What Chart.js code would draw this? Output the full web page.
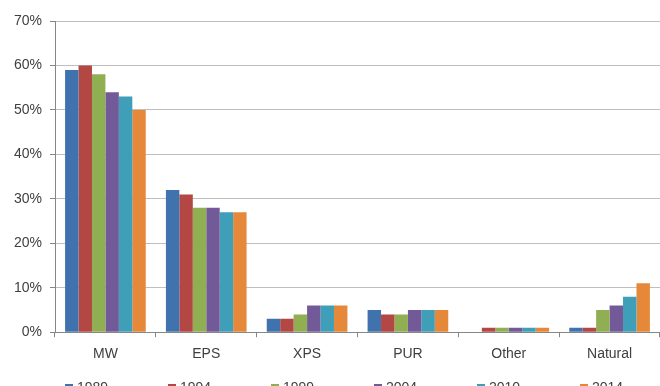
<!DOCTYPE html>
<html>
<head>
<meta charset="utf-8">
<script src="https://cdn.jsdelivr.net/npm/chart.js@4.4.1/dist/chart.umd.min.js"></script>
<style>
  html, body { margin: 0; padding: 0; background: #fff; overflow: hidden; }
  #wrap { width: 660px; height: 386px; position: relative; }
</style>
</head>
<body>
<div id="wrap"><canvas id="c"></canvas></div>
<script>
const categories = ["MW", "EPS", "XPS", "PUR", "Other", "Natural"];
const seriesNames = ["1989", "1994", "1999", "2004", "2010", "2014"];
const s1989 = [59, 32, 3, 5, 0, 1];
const s1994 = [60, 31, 3, 4, 1, 1];
const s1999 = [58, 28, 4, 4, 1, 5];
const s2004 = [54, 28, 6, 5, 1, 6];
const s2010 = [53, 27, 6, 5, 1, 8];
const s2014 = [50, 27, 6, 5, 1, 11];
const yTicks = [0, 10, 20, 30, 40, 50, 60, 70];

const seriesValues = [s1989, s1994, s1999, s2004, s2010, s2014];
const colors = ["#4072AE", "#B34744", "#90AE52", "#725997", "#3F9EB8", "#E6883A"];
const FONT = "'Liberation Sans', Arial, sans-serif";

const customLegend = {
  id: 'customLegend',
  afterDraw(chart) {
    const ctx = chart.ctx;
    ctx.save();
    ctx.font = "14px " + FONT;
    ctx.textBaseline = 'middle';
    ctx.textAlign = 'left';
    const startX = 65, step = 103, yMid = 388;
    chart.data.datasets.forEach((ds, i) => {
      const x = startX + i * step;
      ctx.fillStyle = ds.backgroundColor;
      ctx.fillRect(x, yMid - 4, 8, 8);
      ctx.fillStyle = '#404040';
      ctx.fillText(ds.label, x + 12, yMid);
    });
    ctx.restore();
  }
};

new Chart(document.getElementById('c'), {
  type: 'bar',
  data: {
    labels: categories,
    datasets: seriesNames.map((name, i) => ({
      label: name,
      data: seriesValues[i],
      backgroundColor: colors[i],
      borderWidth: 0,
      categoryPercentage: 0.8,
      barPercentage: 1.0
    }))
  },
  options: {
    responsive: true,
    maintainAspectRatio: false,
    animation: false,
    layout: { padding: { top: 21, right: 0, bottom: 14, left: 0 } },
    plugins: {
      legend: { display: false },
      tooltip: { enabled: false }
    },
    scales: {
      x: {
        offset: true,
        grid: {
          offset: true,
          drawOnChartArea: false,
          drawTicks: true,
          tickLength: 5,
          color: '#868686'
        },
        border: { color: '#868686', width: 1 },
        ticks: {
          color: '#404040',
          font: { family: FONT, size: 14 },
          padding: 9,
          maxRotation: 0
        }
      },
      y: {
        min: 0,
        max: 70,
        afterBuildTicks(scale) { scale.ticks = yTicks.map(v => ({ value: v })); },
        afterFit(scale) { scale.width = 55; },
        grid: {
          color: '#BFBFBF',
          tickLength: 5,
          tickColor: '#868686'
        },
        border: { color: '#868686', width: 1 },
        ticks: {
          color: '#404040',
          font: { family: FONT, size: 14 },
          padding: 8,
          callback: v => v + '%'
        }
      }
    }
  },
  plugins: [customLegend]
});
</script>
</body>
</html>
